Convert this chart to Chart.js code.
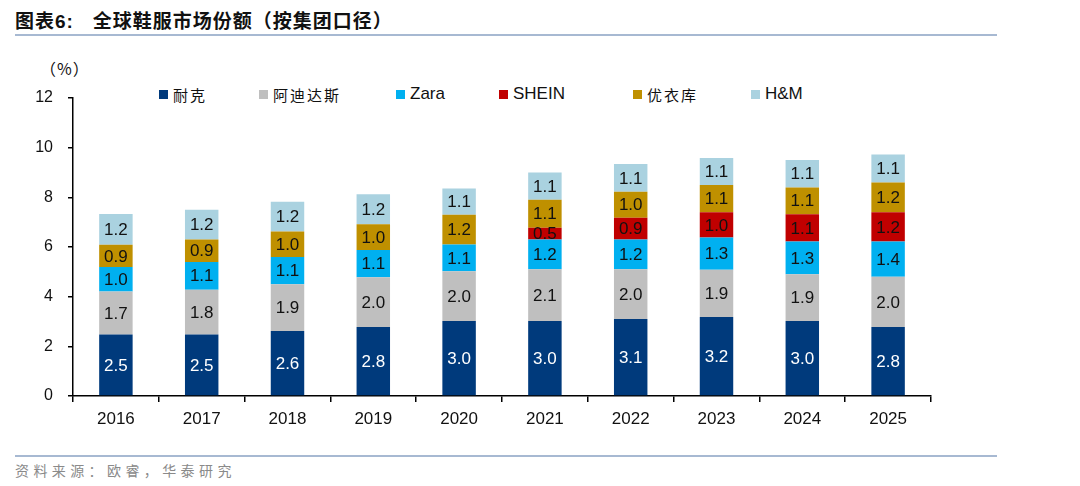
<!DOCTYPE html>
<html>
<head>
<meta charset="utf-8">
<script src="https://cdn.jsdelivr.net/npm/chart.js@4.4.1/dist/chart.umd.min.js"></script>
<style>
    html, body { margin: 0; padding: 0; background: #fff; }
    body { width: 1080px; height: 486px; position: relative; overflow: hidden;
           font-family: "Liberation Sans", Arial, "Noto Sans CJK SC", sans-serif; }
    #title { position: absolute; left: 15px; top: 10px; font-size: 19px; line-height: 24px; font-weight: bold;
             color: #111; letter-spacing: 1px; font-family: "Liberation Sans", "Noto Sans CJK SC", sans-serif; white-space: pre; }
    .rule { position: absolute; left: 15px; width: 982px; height: 2px; background: #a7b9d2; }
    #unit { position: absolute; left: 40px; top: 56px; font-size: 16px; color: #111; letter-spacing: 1px;
            font-family: "Noto Sans CJK SC", sans-serif; }
    #legend { position: absolute; top: 83px; left: 0; height: 22px; }
    .item { position: absolute; top: 0; display: flex; align-items: center; height: 22px;
            font-size: 17px; color: #111; white-space: nowrap; }
    .item i { display: inline-block; width: 9px; height: 9px; margin-right: 5px; }
    .cjk { font-family: "Noto Sans CJK SC", sans-serif; font-size: 15px; letter-spacing: 2px; }
    #source { position: absolute; left: 15px; top: 460px; font-size: 14px; color: #8a8a8a;
              letter-spacing: 4.4px; font-family: "Noto Sans CJK SC", sans-serif; }
    #wrap { position: absolute; left: 0; top: 0; width: 1080px; height: 486px; }
</style>
</head>
<body>
<div id="title">图表6:   全球鞋服市场份额（按集团口径）</div>
<div class="rule" style="top:34px"></div>
<div id="unit">（%）</div>
<div id="legend"></div>
<div class="rule" style="top:455px"></div>
<div id="source">资料来源：欧睿，华泰研究</div>
<div id="wrap"><canvas id="graph"></canvas></div>

<script>
var years = ["2016", "2017", "2018", "2019", "2020", "2021", "2022", "2023", "2024", "2025"];

var seriesNames = ["耐克", "阿迪达斯", "Zara", "SHEIN", "优衣库", "H&M"];
var seriesColors = ["#003a7c", "#bfbfbf", "#00b0f0", "#c00000", "#bf9000", "#aad2e0"];

var nike    = [2.48, 2.48, 2.62, 2.78, 3.02, 3.02, 3.10, 3.18, 3.02, 2.78];
var adidas  = [1.73, 1.80, 1.88, 2.00, 2.00, 2.08, 2.00, 1.90, 1.88, 2.02];
var zara    = [0.98, 1.12, 1.10, 1.10, 1.08, 1.20, 1.20, 1.30, 1.32, 1.42];
var shein   = [0,    0,    0,    0,    0,    0.48, 0.88, 1.02, 1.10, 1.18];
var uniqlo  = [0.90, 0.90, 1.02, 1.04, 1.20, 1.12, 1.04, 1.10, 1.08, 1.20];
var hm      = [1.24, 1.20, 1.20, 1.20, 1.06, 1.10, 1.12, 1.08, 1.10, 1.12];

var seriesValues = [nike, adidas, zara, shein, uniqlo, hm];

var yMax = 12;
var yStep = 2;

// legend, laid out like the original
var legendLeft = [159, 259, 396, 499, 633, 751];
var legendBox = document.getElementById("legend");
seriesNames.forEach(function (name, i) {
    var item = document.createElement("div");
    item.className = "item";
    item.style.left = legendLeft[i] + "px";
    var sq = document.createElement("i");
    sq.style.background = seriesColors[i];
    var txt = document.createElement("span");
    txt.textContent = name;
    if (/[\u4e00-\u9fff]/.test(name)) txt.className = "cjk";
    item.appendChild(sq);
    item.appendChild(txt);
    legendBox.appendChild(item);
});

// draws the value in the middle of each segment
var segmentLabels = {
    id: "segmentLabels",
    afterDatasetsDraw: function (chart) {
        var ctx = chart.ctx;
        ctx.save();
        ctx.font = "17px 'Liberation Sans', Arial, sans-serif";
        ctx.textAlign = "center";
        ctx.textBaseline = "middle";
        chart.data.datasets.forEach(function (ds, di) {
            var meta = chart.getDatasetMeta(di);
            meta.data.forEach(function (bar, j) {
                var v = ds.data[j];
                if (!v) return;
                ctx.fillStyle = di === 0 ? "#ffffff" : "#111111";
                ctx.fillText(v.toFixed(1), bar.x, (bar.y + bar.base) / 2 + 1);
            });
        });
        ctx.restore();
    }
};

var datasets = seriesNames.map(function (name, i) {
    return {
        label: name,
        data: seriesValues[i],
        backgroundColor: seriesColors[i],
        borderWidth: 0,
        barPercentage: 0.39,
        categoryPercentage: 1.0
    };
});

var ctx = document.getElementById("graph").getContext("2d");
var chart = new Chart(ctx, {
    type: "bar",
    data: { labels: years, datasets: datasets },
    options: {
        responsive: true,
        maintainAspectRatio: false,
        animation: false,
        layout: { padding: { left: 0, top: 98, right: 149, bottom: 50 } },
        plugins: { legend: { display: false }, tooltip: { enabled: false } },
        scales: {
            x: {
                stacked: true,
                offset: true,
                afterFit: function (scale) { scale.height = 40; },
                grid: { display: true, offset: true, drawOnChartArea: false, drawTicks: true,
                        tickLength: 6, color: "#000", lineWidth: 1.5 },
                border: { display: true, color: "#000", width: 1.5 },
                ticks: { color: "#111", padding: 7,
                         font: { family: "'Liberation Sans', Arial, sans-serif", size: 17 } }
            },
            y: {
                stacked: true,
                min: 0,
                max: yMax,
                afterFit: function (scale) { scale.width = 73; },
                grid: { display: true, drawOnChartArea: false, drawTicks: true,
                        tickLength: 5, color: "#000", lineWidth: 1.5 },
                border: { display: true, color: "#000", width: 1.5 },
                ticks: { stepSize: yStep, color: "#111", padding: 15,
                         font: { family: "'Liberation Sans', Arial, sans-serif", size: 16 } }
            }
        }
    },
    plugins: [segmentLabels]
});
</script>
</body>
</html>
